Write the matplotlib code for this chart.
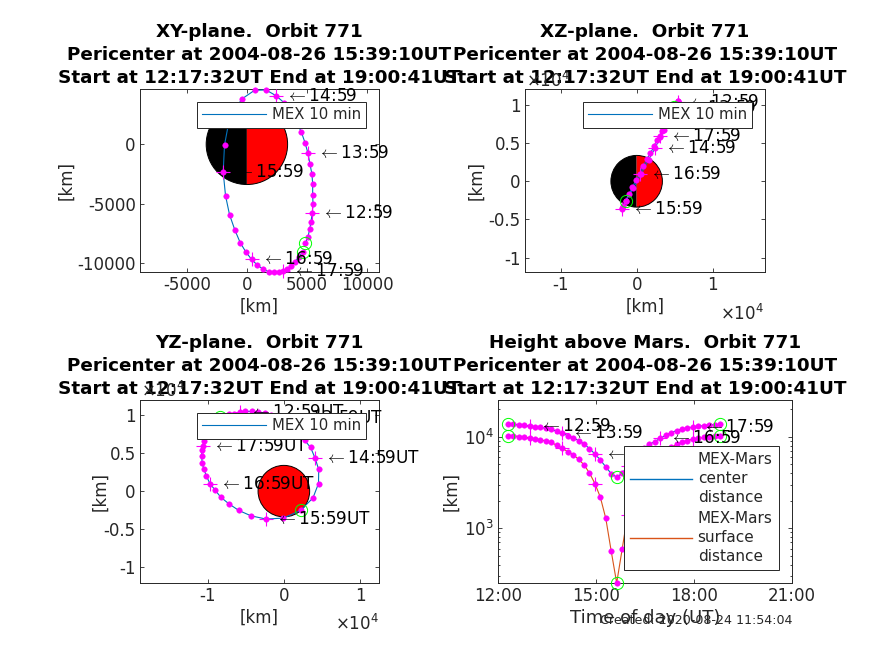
import matplotlib
matplotlib.use("Agg")
import matplotlib.pyplot as plt
from matplotlib.patches import Wedge, Circle
from matplotlib.ticker import NullFormatter, LogLocator

# ---------- data ----------
times = ["12:18","12:28","12:38","12:48","12:58","13:08","13:18","13:28","13:38","13:48",
         "13:58","14:08","14:18","14:28","14:38","14:48","14:58","15:08","15:18","15:28",
         "15:38","15:48","15:58","16:08","16:18","16:28","16:38","16:48","16:58","17:08",
         "17:18","17:28","17:38","17:48","17:58","18:08","18:18","18:28","18:38","18:48"]
x_km = [4865,5087,5226,5338,5449,5504,5477,5477,5421,5254,
        5087,4837,4531,4114,3642,3086,2419,1585,639,-417,
        -1446,-1863,-1974,-1779,-1446,-1001,-556,-83,389,862,
        1334,1807,2280,2669,3030,3364,3697,4003,4309,4642]
y_km = [-8346,-7784,-7166,-6519,-5760,-5058,-4243,-3344,-2529,-1686,
        -759,141,1040,1911,2726,3513,4103,4580,4552,3822,
        2192,-56,-2332,-4327,-5929,-7222,-8290,-9076,-9695,-10172,
        -10509,-10734,-10790,-10762,-10650,-10481,-10257,-9920,-9470,-9076]
z_km = [9700,9900,10100,10200,10400,10500,10500,10400,10300,10000,
        9600,9000,8400,7700,6700,5750,4340,2850,1000,-900,
        -2540,-3550,-3680,-3250,-2540,-1670,-800,200,960,1970,
        2900,3680,4560,5440,5920,6600,7600,8400,8900,9300]
r_km = [13630,13630,13410,13290,13070,12850,12640,12330,12020,11440,
        10870,10250,9750,9040,8320,7400,6470,5570,4670,3950,
        3600,3980,4790,5800,6690,7460,8250,8820,9590,10340,
        11060,11630,12120,12430,12750,12960,13180,13410,13520,13630]
h_km = [10240,10240,10020,9900,9680,9460,9250,8940,8630,8050,
        7480,6860,6360,5650,4930,4010,3080,2180,1280,560,
        253,590,1400,2410,3300,4070,4860,5430,6200,6950,
        7670,8240,8730,9040,9360,9570,9790,10020,10130,10240]
cross_idx = [4, 10, 16, 22, 28, 34]
green_all = [0, 20, 39]
hour_labels = ["12:59", "13:59", "14:59", "15:59", "16:59", "17:59"]
mars_radius = 3390
time_ticks = [12, 15, 18, 21]
time_tick_labels = ["12:00", "15:00", "18:00", "21:00"]
titles = ["XY-plane.  Orbit 771", "XZ-plane.  Orbit 771", "YZ-plane.  Orbit 771", "Height above Mars.  Orbit 771"]
line2 = "Pericenter at 2004-08-26 15:39:10UT"
line3 = "Start at 12:17:32UT End at 19:00:41UT"

t_hours = [int(s[:2]) + int(s[3:]) / 60 for s in times]

# ---------- style ----------
W, H = 874, 655
DARK = "#262626"
BLUE = "#0072BD"
ORANGE = "#D95319"
plt.rcParams.update({"font.family": "DejaVu Sans", "font.size": 12})
fig = plt.figure(figsize=(W / 100, H / 100), dpi=100)


def make_axes(x0, y0, x1, y1):
    ax = fig.add_axes([x0 / W, 1 - y1 / H, (x1 - x0) / W, (y1 - y0) / H])
    ax.tick_params(which="both", direction="in", top=True, right=True, color=DARK,
                   labelcolor=DARK, length=2.6, width=0.6, labelsize=12, pad=3)
    ax.tick_params(which="minor", length=1.6)
    for s in ax.spines.values():
        s.set_linewidth(0.7)
        s.set_color(DARK)
    return ax


def set_title(ax, name):
    ax.text(0.5, 1.012, name + "\n" + line2 + "\n" + line3, transform=ax.transAxes,
            ha="center", va="bottom", fontsize=13.2, fontweight="bold", color="k",
            linespacing=1.35, zorder=30)


def labels(ax, xs, ys, texts):
    for i, t in zip(cross_idx, texts):
        ax.annotate(r"$\leftarrow$" + t, (xs[i], ys[i]), xytext=(7.2, 0),
                    textcoords="offset points", fontsize=12.2, color="k",
                    va="center", ha="left", math_fontfamily="cm",
                    annotation_clip=False, zorder=6)


def orbit(ax, xs, ys, color=BLUE, greens=green_all, label="MEX 10 min"):
    ln, = ax.plot(xs, ys, color=color, lw=0.8, zorder=3, label=label, clip_on=False)
    ax.plot(xs, ys, ls="none", marker="o", ms=4.0, mfc="#FF00FF", mec="#FF00FF", mew=0.3,
            zorder=4, clip_on=False)
    ax.plot([xs[i] for i in cross_idx], [ys[i] for i in cross_idx], ls="none", marker="+",
            ms=10, mew=0.8, color="#FF00FF", zorder=4, clip_on=False)
    ax.plot([xs[i] for i in greens], [ys[i] for i in greens], ls="none", marker="o",
            ms=8.8, mfc="none", mec="#00FF00", mew=0.7, zorder=5, clip_on=False)
    return ln


def mars(ax, split=True):
    if split:
        ax.add_patch(Wedge((0, 0), mars_radius, 90, 270, fc="k", ec="none", zorder=2))
        ax.add_patch(Wedge((0, 0), mars_radius, -90, 90, fc="#FF0000", ec="none", zorder=2))
    else:
        ax.add_patch(Circle((0, 0), mars_radius, fc="#FF0000", ec="none", zorder=2))
    ax.add_patch(Circle((0, 0), mars_radius, fc="none", ec="k", lw=0.7, zorder=2))


def legend(ax, x0, y0, fs=10.7, ls=None, handle_lw=None, **kw):
    opts = dict(loc="upper left", bbox_to_anchor=(x0 / W, 1 - y0 / H),
                bbox_transform=fig.transFigure, fancybox=False, framealpha=1,
                edgecolor=DARK, borderaxespad=0, fontsize=fs, handlelength=4.25,
                handletextpad=0.4, borderpad=0.37, labelcolor="#262626")
    opts.update(kw)
    leg = ax.legend(**opts)
    leg.get_frame().set_linewidth(0.7)
    leg.set_zorder(20)
    if ls:
        for t in leg.get_texts():
            t.set_linespacing(ls)
    if handle_lw:
        for h in leg.get_lines():
            h.set_linewidth(handle_lw)
    return leg


def ylab(ax, px, text="[km]"):
    x0 = ax.get_position().x0 * W
    w = ax.get_position().width * W
    ax.set_ylabel(text, fontsize=12, color=DARK)
    ax.yaxis.set_label_coords((px + 8 - x0) / w, 0.5)


def xlab(ax, py, text="[km]", fs=12):
    y1 = (1 - ax.get_position().y0) * H
    h = ax.get_position().height * H
    ax.set_xlabel(text, fontsize=fs, color=DARK)
    ax.xaxis.set_label_coords(0.5, (y1 - (py - 8)) / h)


def fig_text(px, py, s, **kw):
    fig.text(px / W, 1 - py / H, s, color=DARK, **kw)


# ---------- XY ----------
ax1 = make_axes(140, 89, 379, 272)
ax1.set_xlim(-8900, 11000)
ax1.set_ylim(-10760, 4660)
mars(ax1)
orbit(ax1, x_km, y_km)
labels(ax1, x_km, y_km, hour_labels)
ax1.set_xticks([-5000, 0, 5000, 10000], ["-5000", "0", "5000", "10000"])
ax1.set_yticks([-10000, -5000, 0], ["-10000", "-5000", "0"])
set_title(ax1, titles[0])
ylab(ax1, 67)
xlab(ax1, 306)
legend(ax1, 197, 102)

# ---------- XZ ----------
ax2 = make_axes(525, 89, 765, 272)
ax2.set_xlim(-14700, 16900)
ax2.set_ylim(-11900, 12100)
mars(ax2)
orbit(ax2, x_km, z_km)
labels(ax2, x_km, z_km, hour_labels)
ax2.set_xticks([-10000, 0, 10000], ["-1", "0", "1"])
ax2.set_yticks([-10000, -5000, 0, 5000, 10000], ["-1", "-0.5", "0", "0.5", "1"])
set_title(ax2, titles[1])
ylab(ax2, 477)
xlab(ax2, 306)
legend(ax2, 583, 102)
fig_text(720, 320, r"$\times 10^{4}$", fontsize=12)
fig_text(526, 87, r"$\times 10^{4}$", fontsize=12)

# ---------- YZ ----------
ax3 = make_axes(140, 400, 379, 583)
ax3.set_xlim(-18900, 12500)
ax3.set_ylim(-12100, 12000)
mars(ax3, split=False)
orbit(ax3, y_km, z_km)
labels(ax3, y_km, z_km, [s + "UT" for s in hour_labels])
ax3.set_xticks([-10000, 0, 10000], ["-1", "0", "1"])
ax3.set_yticks([-10000, -5000, 0, 5000, 10000], ["-1", "-0.5", "0", "0.5", "1"])
set_title(ax3, titles[2])
ylab(ax3, 101)
xlab(ax3, 617)
legend(ax3, 197, 413)
fig_text(335, 630, r"$\times 10^{4}$", fontsize=12)
fig_text(141, 397, r"$\times 10^{4}$", fontsize=12)

# ---------- height ----------
ax4 = make_axes(498, 400, 792, 583)
ax4.set_yscale("log")
ax4.set_xlim(12, 21)
ax4.set_ylim(253, 25100)
orbit(ax4, t_hours, r_km, label="MEX-Mars\ncenter\ndistance")
orbit(ax4, t_hours, h_km, color=ORANGE, label="MEX-Mars\nsurface\ndistance")
labels(ax4, t_hours, r_km, hour_labels)
ax4.set_xticks(time_ticks, time_tick_labels)
ax4.set_yticks([1000, 10000], [r"$10^{3}$", r"$10^{4}$"])
ax4.yaxis.set_minor_locator(LogLocator(base=10, subs=range(2, 10), numticks=12))
ax4.yaxis.set_minor_formatter(NullFormatter())
set_title(ax4, titles[3])
ylab(ax4, 452)
xlab(ax4, 617, "Time of day (UT)", fs=13)
legend(ax4, 624, 446, fs=11, ls=1.3, handle_lw=1.0, handlelength=4.05, handletextpad=0.35,
       labelspacing=0.45, borderpad=0.42)

fig.text(792 / W, 1 - 620 / H, "Created: 2020-08-24 11:54:04", ha="right", va="center",
         fontsize=9.1, color=DARK, zorder=40)

fig.savefig("out.png", dpi=100)
